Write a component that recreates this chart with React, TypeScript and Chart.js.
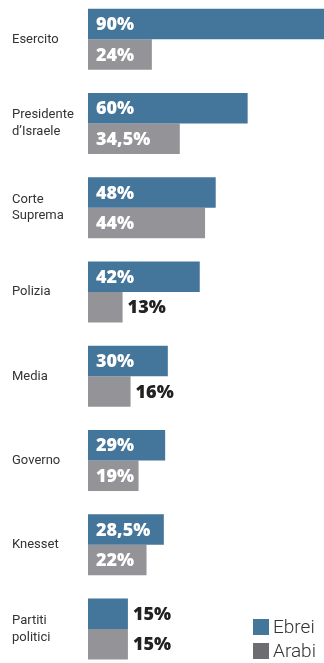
import React, { useEffect, useRef } from "react";
import { Chart, registerables } from "chart.js";

Chart.register(...registerables);

const categories: (string | string[])[] = [
  "Esercito",
  ["Presidente", "d\u2019Israele"],
  ["Corte", "Suprema"],
  "Polizia",
  "Media",
  "Governo",
  "Knesset",
  ["Partiti", "politici"],
];
const ebrei = [90, 60, 48, 42, 30, 29, 28.5, 15];
const arabi = [24, 34.5, 44, 13, 16, 19, 22, 15];
const seriesNames = ["Ebrei", "Arabi"];
const barColors = ["#44759a", "#949498"];
const legendColors = ["#44759a", "#6c6c71"];

const fmt = (v: number) => String(v).replace(".", ",") + "%";

const valueLabels = {
  id: "valueLabels",
  afterDatasetsDraw(chart: any) {
    const ctx = chart.ctx;
    ctx.save();
    ctx.font = "800 18px 'Open Sans', Lato, sans-serif";
    ctx.textBaseline = "middle";
    ctx.textAlign = "left";
    chart.data.datasets.forEach((ds: any, di: number) => {
      const meta = chart.getDatasetMeta(di);
      meta.data.forEach((bar: any, i: number) => {
        const txt = fmt(ds.data[i]);
        const w = ctx.measureText(txt).width;
        const bw = bar.x - bar.base;
        if (w + 12 <= bw) {
          ctx.fillStyle = "#ffffff";
          ctx.fillText(txt, bar.base + 8, bar.y + 1);
        } else {
          ctx.fillStyle = "#222222";
          ctx.fillText(txt, bar.x + 5, bar.y + 1);
        }
      });
    });
    ctx.restore();
  },
};

const customLegend = {
  id: "customLegend",
  afterDraw(chart: any) {
    const ctx = chart.ctx;
    ctx.save();
    ctx.font = "300 19px Roboto, sans-serif";
    ctx.textBaseline = "middle";
    ctx.textAlign = "left";
    chart.data.datasets.forEach((ds: any, di: number) => {
      const y = 619 + di * 24;
      ctx.fillStyle = legendColors[di];
      ctx.fillRect(253, y, 16, 16);
      ctx.fillStyle = "#333333";
      ctx.fillText(ds.label, 273, y + 9);
    });
    ctx.restore();
  },
};

export default function App() {
  const ref = useRef<HTMLCanvasElement>(null);
  useEffect(() => {
    document.body.style.margin = "0";
    const chart = new Chart(ref.current!, {
      type: "bar",
      data: {
        labels: categories,
        datasets: [
          { label: seriesNames[0], data: ebrei, backgroundColor: barColors[0], clip: false as any },
          { label: seriesNames[1], data: arabi, backgroundColor: barColors[1], clip: false as any },
        ],
      },
      options: {
        indexAxis: "y",
        responsive: false,
        animation: false,
        devicePixelRatio: 1,
        categoryPercentage: 0.724,
        barPercentage: 1,
        layout: { padding: { top: 39.3, bottom: 34, left: 12, right: 0 } },
        plugins: { legend: { display: false }, tooltip: { enabled: false } },
        scales: {
          x: { display: false, min: 0, max: 88.7 },
          y: {
            offset: false,
            grid: { display: false },
            border: { display: false },
            afterFit: (s: any) => {
              s.width = 76;
            },
            ticks: {
              crossAlign: "far",
              color: "#333333",
              font: { family: "Roboto, sans-serif", size: 13, lineHeight: 1.3 },
              padding: 0,
            },
          },
        },
      } as any,
      plugins: [valueLabels, customLegend],
    });
    return () => chart.destroy();
  }, []);
  return (
    <div style={{ width: 324, height: 663 }}>
      <canvas ref={ref} width={324} height={663} />
    </div>
  );
}
